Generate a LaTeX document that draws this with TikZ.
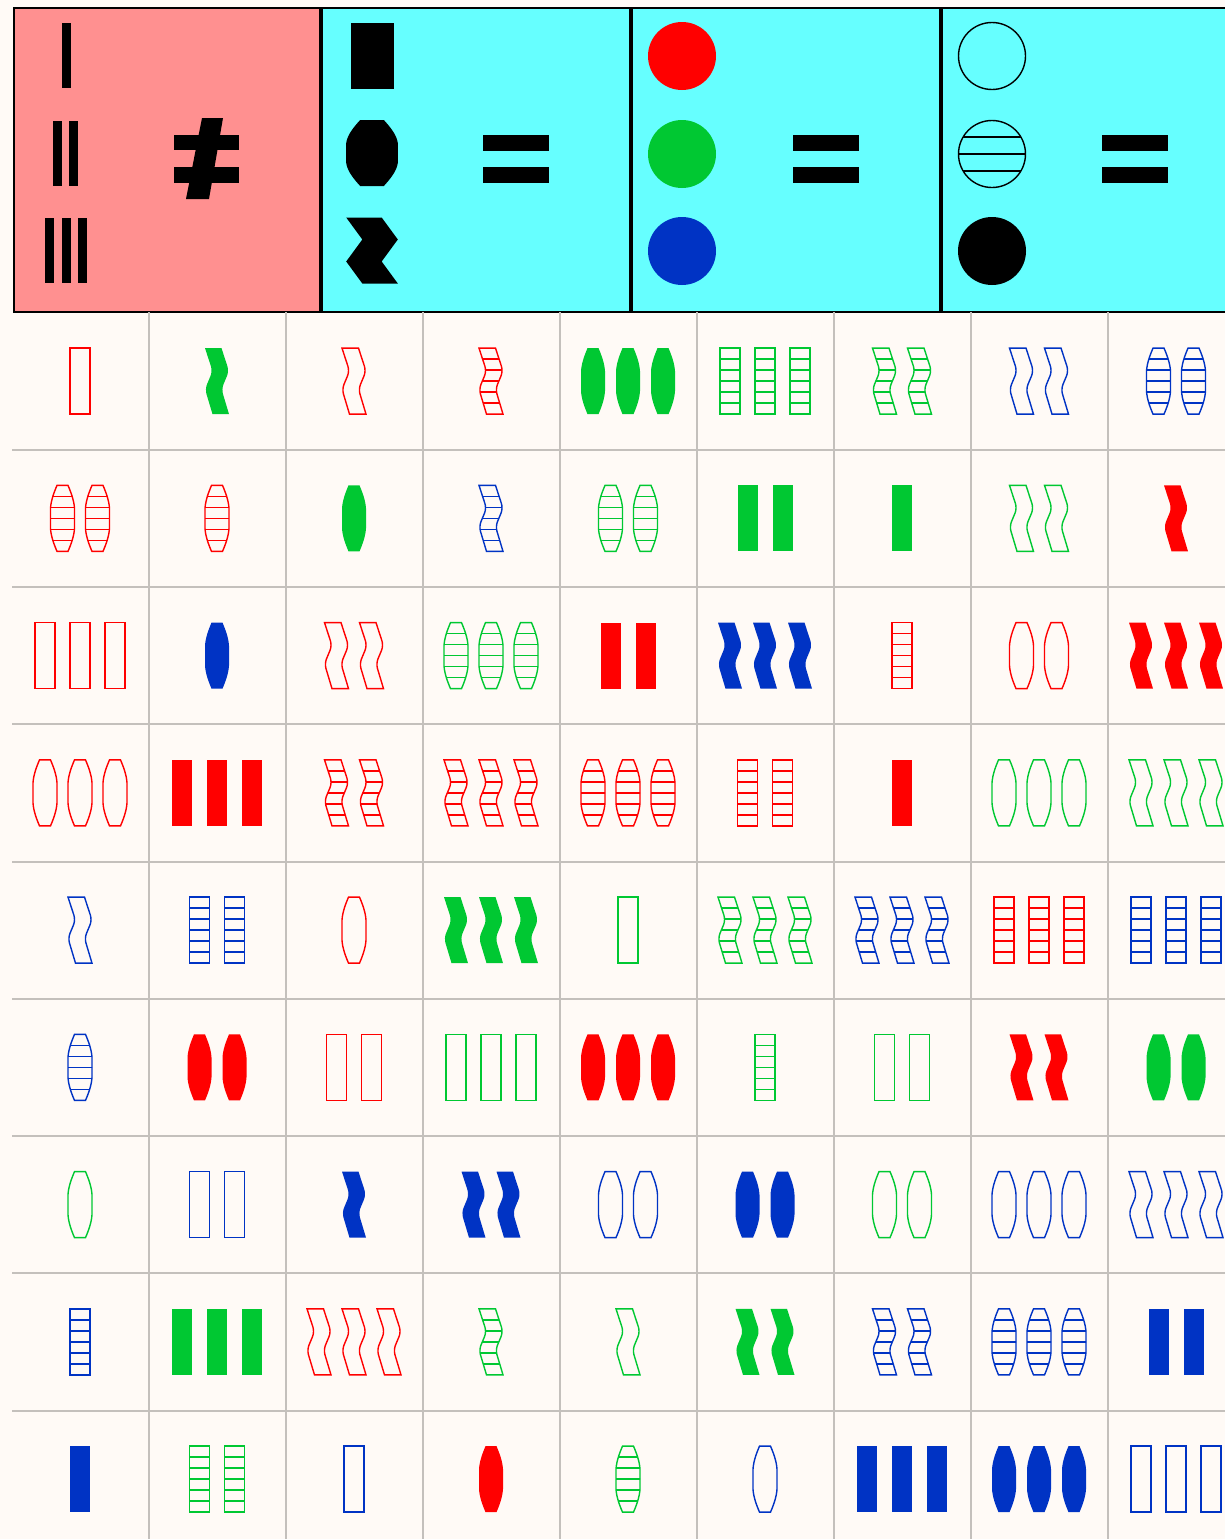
\documentclass[tikz,border=0pt]{standalone}
\usetikzlibrary{calc}
\definecolor{sr}{HTML}{FF0000}
\definecolor{sg}{HTML}{00C832}
\definecolor{sb}{HTML}{0033C4}
\definecolor{paper}{HTML}{FFFAF6}
\definecolor{gridc}{HTML}{C4C0BC}
\definecolor{pinkp}{HTML}{FF9090}
\definecolor{cyanp}{HTML}{66FFFF}
% the three shapes, centred at (0,0), pixel units
\newcommand\shR{(-10,-33) rectangle (10,33)}
\newcommand\shO{(-5.5,-33) -- (5.5,-33) .. controls (8.5,-26) and (11.5,-18) .. (12,-10) -- (12,10) .. controls (11.5,18) and (8.5,26) .. (5.5,33) -- (-5.5,33) .. controls (-8.5,26) and (-11.5,18) .. (-12,10) -- (-12,-10) .. controls (-11.5,-18) and (-8.5,-26) .. (-5.5,-33) -- cycle}
\newcommand\shS{(-12,-33) -- (4.5,-33) [rounded corners=5pt] -- (12,-10) -- (4.5,8) [sharp corners] -- (12,33) -- (-4.5,33) [rounded corners=5pt] -- (-12,8) -- (-4.5,-10) [sharp corners] -- cycle}
% sharp squiggle for the legend
\newcommand\shZ{(-12,-33) -- (4.5,-33) -- (12,-11) -- (4.5,11) -- (12,33) -- (-4.5,33) -- (-12,11) -- (-4.5,-11) -- cycle}
% fillings: solid, open, striped
\newcommand\fS[2]{\fill[#2] #1;}
\newcommand\fO[2]{\draw[#2,outl] #1;}
\newcommand\fT[2]{\begin{scope}\clip #1; \foreach \j in {1,...,5} \draw[#2,outl] (-15,-33+11*\j) -- (15,-33+11*\j); \end{scope}\draw[#2,outl] #1;}
% one card: col, row, number, shape, filling, colour
\newcommand\card[6]{%
  \pgfmathsetmacro\cx{11.5+137*(#1+0.5)}%
  \pgfmathsetmacro\cy{312.5+137.25*(#2+0.5)}%
  \foreach \i in {1,...,#3}{%
    \pgfmathsetmacro\dx{35*(\i-(#3+1)/2)}%
    \begin{scope}[shift={(\cx+\dx,\cy)}] #5{#4}{#6} \end{scope}}}
\begin{document}
\begin{tikzpicture}[x=1pt,y=-1pt,outl/.style={line width=1.4pt,line join=miter},
  gridl/.style={gridc,line width=2pt},sep/.style={line width=4.5pt}]
\useasboundingbox (0,0) rectangle (1225,1539);
\fill[paper] (0,0) rectangle (1225,1539);
% header panels
\fill[pinkp] (14,8) rectangle (321,312);
\fill[cyanp] (321,8) rectangle (1230,312);
\draw[line width=2pt] (14,8) rectangle (1230,312);
\foreach \x in {321,631,941} \draw[sep] (\x,8) -- (\x,312);
% number: bars and not-equal
\foreach \x/\y in {66.5/55.5,57.5/153,73.5/153,49.5/250.5,66.5/250.5,82.5/250.5} \fill (\x-4.5,\y-32.5) rectangle (\x+4.5,\y+32.5);
\fill (174,135) rectangle (239,150); \fill (174,167) rectangle (239,183);
\fill (202,118) -- (223,118) -- (209,199) -- (186,199) -- cycle;
% shape panel
\foreach \y/\s in {55.5/\shR,153/\shO,250.5/\shZ} {\begin{scope}[shift={(372,\y)},xscale=2.15] \fill \s; \end{scope}}
% colour panel
\foreach \y/\co in {56/sr,154/sg,251/sb} \fill[\co] (682,\y) circle[radius=34];
% filling panel
\draw[outl] (992,56) circle[radius=33.5];
\begin{scope} \clip (992,154) circle[radius=33.5];
  \foreach \d in {-17,0,17} \draw[outl] (950,154+\d) -- (1035,154+\d); \end{scope}
\draw[outl] (992,154) circle[radius=33.5];
\fill (992,251) circle[radius=34];
% equal signs
\foreach \x in {483,793,1102} {\fill (\x,135) rectangle (\x+66,151); \fill (\x,167) rectangle (\x+66,183);}
% grid of cards
\foreach \k in {1,...,8} {\draw[gridl] (11.5+137*\k,312) -- (11.5+137*\k,1539);
  \draw[gridl] (12,312.5+137.25*\k) -- (1225,312.5+137.25*\k);}
\foreach \row [count=\r from 0] in {
  {1/\shR/\fO/sr,1/\shS/\fS/sg,1/\shS/\fO/sr,1/\shS/\fT/sr,3/\shO/\fS/sg,3/\shR/\fT/sg,2/\shS/\fT/sg,2/\shS/\fO/sb,2/\shO/\fT/sb},
  {2/\shO/\fT/sr,1/\shO/\fT/sr,1/\shO/\fS/sg,1/\shS/\fT/sb,2/\shO/\fT/sg,2/\shR/\fS/sg,1/\shR/\fS/sg,2/\shS/\fO/sg,1/\shS/\fS/sr},
  {3/\shR/\fO/sr,1/\shO/\fS/sb,2/\shS/\fO/sr,3/\shO/\fT/sg,2/\shR/\fS/sr,3/\shS/\fS/sb,1/\shR/\fT/sr,2/\shO/\fO/sr,3/\shS/\fS/sr},
  {3/\shO/\fO/sr,3/\shR/\fS/sr,2/\shS/\fT/sr,3/\shS/\fT/sr,3/\shO/\fT/sr,2/\shR/\fT/sr,1/\shR/\fS/sr,3/\shO/\fO/sg,3/\shS/\fO/sg},
  {1/\shS/\fO/sb,2/\shR/\fT/sb,1/\shO/\fO/sr,3/\shS/\fS/sg,1/\shR/\fO/sg,3/\shS/\fT/sg,3/\shS/\fT/sb,3/\shR/\fT/sr,3/\shR/\fT/sb},
  {1/\shO/\fT/sb,2/\shO/\fS/sr,2/\shR/\fO/sr,3/\shR/\fO/sg,3/\shO/\fS/sr,1/\shR/\fT/sg,2/\shR/\fO/sg,2/\shS/\fS/sr,2/\shO/\fS/sg},
  {1/\shO/\fO/sg,2/\shR/\fO/sb,1/\shS/\fS/sb,2/\shS/\fS/sb,2/\shO/\fO/sb,2/\shO/\fS/sb,2/\shO/\fO/sg,3/\shO/\fO/sb,3/\shS/\fO/sb},
  {1/\shR/\fT/sb,3/\shR/\fS/sg,3/\shS/\fO/sr,1/\shS/\fT/sg,1/\shS/\fO/sg,2/\shS/\fS/sg,2/\shS/\fT/sb,3/\shO/\fT/sb,2/\shR/\fS/sb},
  {1/\shR/\fS/sb,2/\shR/\fT/sg,1/\shR/\fO/sb,1/\shO/\fS/sr,1/\shO/\fT/sg,1/\shO/\fO/sb,3/\shR/\fS/sb,3/\shO/\fS/sb,3/\shR/\fO/sb}}
  {\foreach \n/\sh/\fl/\co [count=\c from 0] in \row {\card{\c}{\r}{\n}{\sh}{\fl}{\co}}}
\end{tikzpicture}
\end{document}
